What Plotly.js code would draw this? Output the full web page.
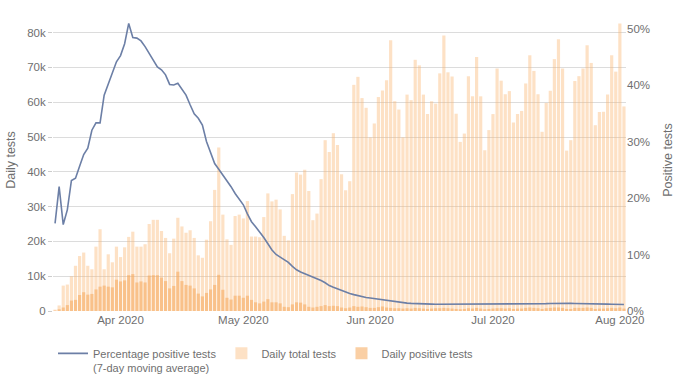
<!DOCTYPE html>
<html>
<head>
<meta charset="utf-8">
<script src="https://cdn.plot.ly/plotly-3.0.1.min.js"></script>
<style>html,body{margin:0;padding:0;background:#fff;}#chart{width:680px;height:382px;}</style>
</head>
<body>
<div id="chart"></div>
<script>
// Daily data from 2020-03-16 to 2020-08-02 (140 days)
const startDate = '2020-03-16';
const dayCount = 140;

// Daily total tests
const totalTests = [
  400, 1600, 7300, 7600, 10000, 13000, 15800, 16800, 13000, 12000,
  18500, 23500, 12000, 16300, 14000, 18500, 15500, 18300, 21300, 22800,
  18500, 18500, 19200, 25000, 26200, 26200, 23000, 21000, 16600, 20800,
  26800, 24300, 22500, 23200, 21000, 16000, 15300, 20500, 25800, 34800,
  47000, 27700, 20600, 19000, 27300, 27700, 26600, 31600, 21400, 21400,
  21200, 27000, 33800, 31500, 32000, 29200, 21600, 20300, 33600, 39800,
  39200, 40600, 34500, 26100, 28000, 37900, 49100, 45700, 51100, 47700,
  39300, 34700, 37300, 65000, 67300, 61200, 58400, 49900, 53900, 61500,
  63400, 66300, 77800, 60300, 57900, 49900, 62200, 60600, 72200, 70600,
  62200, 56600, 60300, 59600, 68300, 79200, 68600, 67400, 56700, 48600,
  51000, 67500, 61700, 73000, 61700, 46200, 52000, 56600, 69700, 66200,
  62300, 63200, 54200, 56600, 57500, 65400, 73500, 69000, 62300, 51500,
  59800, 63300, 72400, 78100, 69700, 46100, 49100, 66100, 67500, 69700,
  76400, 71300, 53400, 57200, 57300, 62200, 73500, 68800, 82600, 58800
];

// Daily positive tests
const positiveTests = [
  100, 500, 1000, 1700, 3000, 3200, 4600, 5400, 4700, 4900,
  6200, 7000, 7300, 7000, 6800, 9000, 8500, 8800, 10300, 10600,
  8200, 8500, 8200, 10200, 10300, 10300, 9600, 8600, 6500, 7200,
  11300, 8600, 7500, 7300, 6500, 5000, 4200, 5200, 6200, 7500,
  10400, 6100, 3800, 3300, 4400, 4400, 3800, 4400, 3200, 2500,
  2200, 2700, 3400, 2500, 2500, 2200, 1200, 1100, 1900, 2500,
  2400, 1900, 1200, 1000, 1200, 1400, 1700, 1400, 1500, 1400,
  1000, 800, 1000, 1400, 1200, 1300, 1100, 900, 900, 1100,
  1300, 1000, 900, 800, 800, 700, 800, 700, 900, 800,
  700, 600, 700, 800, 800, 900, 800, 700, 600, 500,
  600, 800, 700, 900, 700, 500, 600, 700, 800, 800,
  700, 800, 600, 700, 700, 900, 1000, 900, 800, 600,
  800, 900, 1000, 1000, 900, 600, 600, 900, 900, 900,
  1000, 900, 600, 700, 700, 800, 900, 800, 1000, 700
];

// Percentage positive tests (7-day moving average), in %
const pctPositive = [
  15.5, 22.0, 15.3, 17.9, 23.1, 23.5, 25.6, 27.7, 28.8, 32.0,
  33.3, 33.3, 38.2, 40.3, 42.3, 44.1, 45.2, 47.3, 50.9, 48.4,
  48.3, 47.8, 46.8, 45.6, 44.4, 43.2, 42.7, 41.8, 40.1, 40.0,
  40.3, 39.3, 38.2, 36.5, 34.9, 34.1, 32.9, 30.0, 27.9, 26.1,
  25.1, 24.1, 23.0, 22.0, 20.8, 19.9, 18.8, 17.2, 15.8, 14.9,
  14.0, 13.0, 11.9, 10.8, 10.0, 9.5, 9.1, 8.6, 7.9, 7.3,
  6.9, 6.6, 6.3, 6.0, 5.8, 5.4, 5.0, 4.5, 4.2, 3.9,
  3.6, 3.4, 3.1, 2.9, 2.7, 2.5, 2.4, 2.3, 2.2, 2.1,
  1.9, 1.8, 1.7, 1.6, 1.5, 1.45, 1.4, 1.35, 1.3, 1.28,
  1.26, 1.24, 1.22, 1.2, 1.2, 1.19, 1.18, 1.18, 1.17, 1.17,
  1.17, 1.18, 1.18, 1.19, 1.2, 1.2, 1.2, 1.21, 1.22, 1.22,
  1.22, 1.2, 1.2, 1.19, 1.18, 1.2, 1.22, 1.24, 1.26, 1.28,
  1.3, 1.33, 1.36, 1.37, 1.37, 1.36, 1.35, 1.34, 1.34, 1.33,
  1.32, 1.3, 1.28, 1.26, 1.24, 1.22, 1.2, 1.18, 1.16, 1.15
];

const seriesNames = ['Percentage positive tests<br>(7-day moving average)', 'Daily total tests', 'Daily positive tests'];

// Build consecutive daily date labels
const dates = [];
{
  const d0 = new Date(startDate + 'T00:00:00Z');
  for (let k = 0; k < dayCount; k++) {
    const d = new Date(d0.getTime() + k * 86400000);
    dates.push(d.toISOString().slice(0, 10));
  }
}

const fontFam = 'Liberation Sans, Arial, sans-serif';
const grey = '#6f6f6f';

const data = [
  {
    type: 'scatter', mode: 'lines', name: seriesNames[0],
    x: dates, y: pctPositive, yaxis: 'y2',
    line: {color: '#6c7fa6', width: 1.6},
    hoverinfo: 'skip'
  },
  {
    type: 'bar', name: seriesNames[1], x: dates, y: totalTests,
    marker: {color: 'rgba(250,180,110,0.40)', line: {width: 0}}
  },
  {
    type: 'bar', name: seriesNames[2], x: dates, y: positiveTests,
    marker: {color: 'rgba(245,168,90,0.55)', line: {width: 0}}
  }
];

const layout = {
  width: 680, height: 382,
  margin: {l: 53, r: 54, t: 9, b: 71, autoexpand: false},
  paper_bgcolor: '#fff', plot_bgcolor: '#fff',
  font: {family: fontFam, size: 11, color: grey},
  barmode: 'overlay', bargap: 0.22,
  showlegend: true,
  legend: {
    orientation: 'h', x: 0, xanchor: 'left', y: -0.095, yanchor: 'top',
    valign: 'top', font: {family: fontFam, size: 11, color: grey},
    traceorder: 'normal', bgcolor: 'rgba(0,0,0,0)'
  },
  xaxis: {
    type: 'date',
    range: ['2020-03-15 12:00', '2020-08-02 12:00'],
    tick0: '2020-04-01', dtick: 'M1', tickformat: '%b %Y',
    showgrid: false, zeroline: false, showline: false, ticks: '',
    tickfont: {size: 11.5, color: grey}
  },
  yaxis: {
    range: [0, 86800], dtick: 10000, tickformat: '~s',
    showgrid: true, gridcolor: '#dcdcdc', gridwidth: 1,
    zeroline: false, showline: false,
    ticks: 'outside', ticklen: 4, tickcolor: '#cccccc',
    tickfont: {size: 11.5, color: grey},
    title: {text: 'Daily tests', font: {size: 12.5, color: grey}, standoff: 8}
  },
  yaxis2: {
    overlaying: 'y', side: 'right',
    range: [0, 53.45], dtick: 10, ticksuffix: '%',
    showgrid: false, zeroline: false, showline: false, ticks: '',
    tickfont: {size: 11.5, color: grey},
    title: {text: 'Positive tests', font: {size: 12.5, color: grey}, standoff: 14}
  }
};

Plotly.newPlot('chart', data, layout, {displayModeBar: false, staticPlot: true});
</script>
</body>
</html>
